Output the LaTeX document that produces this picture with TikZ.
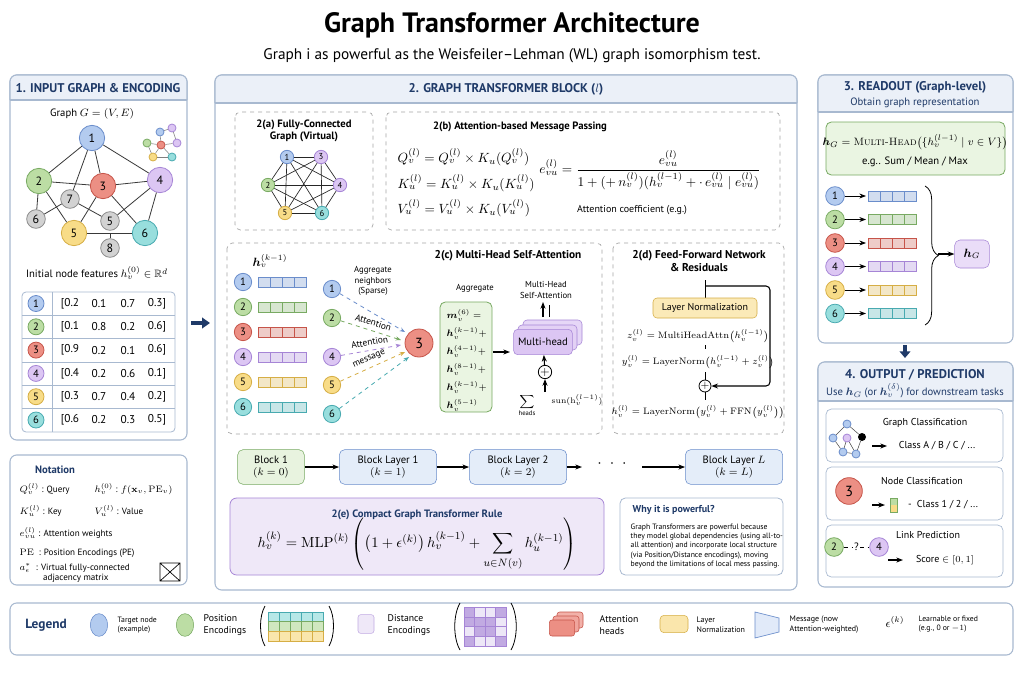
\documentclass[tikz,border=0pt]{standalone}
\usepackage{amsmath,amssymb}
\usepackage[no-math]{fontspec}
\setmainfont{PT Sans}
\usetikzlibrary{arrows.meta,calc,decorations.pathreplacing,shapes.geometric}
\definecolor{nb}{HTML}{B3CBEF}\definecolor{nbD}{HTML}{6A8DCB}
\definecolor{ng}{HTML}{BCDDA4}\definecolor{ngD}{HTML}{78AA62}
\definecolor{nr}{HTML}{EC8F84}\definecolor{nrD}{HTML}{C65449}
\definecolor{np}{HTML}{DCC6F3}\definecolor{npD}{HTML}{A685D6}
\definecolor{ny}{HTML}{F8DC88}\definecolor{nyD}{HTML}{D6AE45}
\definecolor{nt}{HTML}{98DEDD}\definecolor{ntD}{HTML}{48AAB0}
\definecolor{nk}{HTML}{D2D2D2}\definecolor{nkD}{HTML}{8A8A8A}
\definecolor{pb}{HTML}{A8B9D0}\definecolor{hb}{HTML}{EBF0F8}\definecolor{tc}{HTML}{1F3A68}
\definecolor{lav}{HTML}{EFE8F8}\definecolor{lg}{HTML}{EAF5E2}
\newcommand{\fbar}[3]{\foreach \i in {0,...,3}{\draw[#3,fill=#3!30,line width=0.5pt] (#1+\i*12,#2-5) rectangle ++(12,10);}}
\tikzset{
 gn/.style 2 args={circle,draw=#1D,fill=#1,minimum size=#2,inner sep=0pt,line width=0.6pt},
 panel/.style={draw=pb,rounded corners=5pt,line width=0.8pt,fill=white},
 dbox/.style={draw=gray!70,dashed,rounded corners=4pt,line width=0.5pt},
 hdr/.style={font=\bfseries\fontsize{9.5}{11}\selectfont,text=tc},
 sub/.style={font=\fontsize{8}{10}\selectfont,text=tc},
 tt/.style={font=\bfseries\fontsize{8}{10}\selectfont},
 sm/.style={font=\fontsize{6.5}{8}\selectfont,align=center},
 ge/.style={draw=gray!45!black,line width=0.6pt},
 ar/.style={-{Stealth[length=5pt]},line width=0.8pt},
}
\newcommand{\phead}[4]{\path[fill=hb,draw=pb,line width=0.8pt,rounded corners=5pt] (#1,#4)--(#1,#2)--(#3,#2)--(#3,#4);\draw[pb,line width=0.8pt](#1,#4)--(#3,#4);}
\begin{document}
\begin{tikzpicture}[x=0.75pt,y=-0.75pt]
\useasboundingbox[fill=white] (0,0) rectangle (1024,682);
\node[font=\bfseries\fontsize{21}{24}\selectfont] (title) at (512,25) {Graph Transformer Architecture};
\node[font=\fontsize{11.5}{13}\selectfont] (subt) at (512,56) {Graph i as powerful as the Weisfeiler--Lehman (WL) graph isomorphism test.};
%% panel 1
\draw[panel] (10,75) rectangle (187,440); \phead{10}{75}{187}{100}
\node[hdr] (p1) at (98,88) {1. INPUT GRAPH \& ENCODING};
\node[font=\fontsize{8}{10}\selectfont] (gl) at (92,114) {Graph $G=(V,E)$};
\coordinate (j8) at (110,233);
\begin{scope}[font=\fontsize{9}{10}\selectfont]
\node[gn={nb}{19pt}] (a1) at (92,138) {1};
\node[gn={ng}{19pt}] (a2) at (39,181) {2};
\node[gn={nr}{19pt}] (a3) at (103,186) {3};
\node[gn={np}{19pt}] (a4) at (160,180) {4};
\node[gn={ny}{19pt}] (a5) at (74,233) {5};
\node[gn={nt}{19pt}] (a6) at (145,233) {6};
\node[gn={nk}{14pt}] (g7) at (70,199) {7};
\node[gn={nk}{14pt}] (g6) at (36,219) {6};
\node[gn={nk}{14pt}] (g5) at (110,221) {5};
\node[gn={nk}{14pt}] (g8) at (110,248) {8};
\end{scope}
\foreach \a/\b in {a1/a2,a1/a3,a1/g7,a1/a4,a2/a3,a2/g6,a2/a5,a3/a4,a3/a5,a3/a6,g7/g6,g7/g5,a4/a6,a4/g5,a5/a6}{\draw[ge] (\a)--(\b);}
\draw[ge] (g8)--(j8);
% mini icon
\foreach \n/\x/\y/\c in {m1/160/132/nb,m2/172/128/np,m3/147/143/ng,m4/161/145/nr,m5/177/143/np,m6/153/157/ny,m7/172/157/nt}{\node[gn={\c}{6pt}] (\n) at (\x,\y) {};}
\foreach \a/\b in {m1/m2,m1/m4,m3/m4,m4/m5,m2/m5,m4/m6,m4/m7,m6/m7,m3/m6}{\draw[gray,line width=0.4pt] (\a)--(\b);}
\node[font=\fontsize{8}{10}\selectfont] (ifl) at (97,273) {Initial node features $h_v^{(0)}\in\mathbb{R}^d$};
\draw[pb,rounded corners=3pt,line width=0.6pt] (22,292) rectangle (175,432);
\draw[pb,line width=0.6pt] (52,292)--(52,432);
\foreach \r/\c in {0/nb,1/ng,2/nr,3/np,4/ny,5/nt}{
 \pgfmathtruncatemacro{\k}{\r+1}
 \node[gn={\c}{12pt},font=\fontsize{8}{9}\selectfont] (t\k) at (36,{303.5+\r*23.3}) {\k};
 \ifnum\r>0 \draw[pb,line width=0.5pt] (22,{292+\r*23.3})--(175,{292+\r*23.3});\fi
}
\begin{scope}[font=\fontsize{8.5}{10}\selectfont]
\foreach \r/\p/\q/\s/\t in {0/[0.2/0.1/0.7/0.3,1/[0.1/0.8/0.2/0.6,2/[0.9/0.2/0.1/0.6,3/[0.4/0.2/0.6/0.1,4/[0.3/0.7/0.4/0.2,5/[0.6/0.2/0.3/0.5}{
 \node (v\r a) at (70,{303.5+\r*23.3}) {\p}; \node (v\r b) at (99,{303.5+\r*23.3}) {\q};
 \node (v\r c) at (128,{303.5+\r*23.3}) {\s}; \node (v\r d) at (157,{303.5+\r*23.3}) {\t]};}
\end{scope}
%% notation
\draw[panel] (10,455) rectangle (187,585);
\node[font=\bfseries\fontsize{8}{10}\selectfont,text=tc] (nt) at (55,470) {Notation};
\begin{scope}[font=\fontsize{6.8}{8}\selectfont,inner sep=1pt]
\node[anchor=west] (n1) at (18,489) {$Q_v^{(l)}$ : Query};
\node[anchor=west] (n2) at (93,489) {$h_v^{(0)}$ : $f(\mathbf{x}_v,\mathrm{PE}_v)$};
\node[anchor=west] (n3) at (18,511) {$K_u^{(l)}$ : Key};
\node[anchor=west] (n4) at (93,511) {$V_u^{(l)}$ : Value};
\node[anchor=west] (n5) at (18,533) {$e_{vu}^{(l)}$ : Attention weights};
\node[anchor=west] (n6) at (18,553) {$\mathrm{PE}$ \ : Position Encodings (PE)};
\node[anchor=west,align=left] (n7) at (18,573) {$a_\epsilon^{*}$ \ : Virtual fully-connected\\ \hspace{2.6em}adjacency matrix};
\end{scope}
\draw[line width=0.5pt] (160,563) rectangle (180,581) (160,563)--(180,581) (160,581)--(180,563);
%% arrow 1->2
\draw[-{Triangle[length=6pt,width=8pt]},line width=3pt,tc] (191,323)--(210,323);
%% panel 2
\draw[panel] (215,75) rectangle (797,590); \phead{215}{75}{797}{103}
\node[hdr] (p2) at (506,89) {2. GRAPH TRANSFORMER BLOCK ($l$)};
% 2a
\draw[dbox] (235,112) rectangle (373,230);
\node[align=center,font=\bfseries\fontsize{8}{9}\selectfont] (ta) at (304,131) {2(a) Fully-Connected\\Graph (Virtual)};
\begin{scope}[font=\fontsize{6.5}{7}\selectfont]
\node[gn={nb}{10pt}] (b1) at (287,157) {1}; \node[gn={np}{10pt}] (b3) at (321,157) {3};
\node[gn={ng}{10pt}] (b2) at (268,185) {2}; \node[gn={np}{10pt}] (b4) at (340,185) {4};
\node[gn={ny}{10pt}] (b5) at (285,213) {5}; \node[gn={nt}{10pt}] (b6) at (322,213) {6};
\end{scope}
\foreach \a/\b in {b1/b2,b1/b3,b1/b4,b1/b5,b1/b6,b2/b3,b2/b4,b2/b5,b2/b6,b3/b4,b3/b5,b3/b6,b4/b5,b4/b6,b5/b6}{\draw[gray!30!black,line width=0.5pt] (\a)--(\b);}
% 2b
\draw[dbox] (386,112) rectangle (780,230);
\node[tt] (tb) at (520,127) {2(b) Attention-based Message Passing};
\begin{scope}[font=\fontsize{10}{12}\selectfont]
\node[anchor=west] (q) at (393,157) {$Q_v^{(l)}=Q_v^{(l)}\times K_u(Q_v^{(l)})$};
\node[anchor=west] (k) at (393,183) {$K_u^{(l)}=K_u^{(l)}\times K_u(K_u^{(l)})$};
\node[anchor=west] (v) at (393,208) {$V_u^{(l)}=V_u^{(l)}\times K_u(V_u^{(l)})$};
\node (e) at (650,170) {$e_{vu}^{(l)}=\dfrac{e_{vu}^{(l)}}{1+(+\,n_v^{(l)})(h_v^{(l-1)}+\cdot\, e_{vu}^{(l)}\mid e_{vu}^{(l)})}$};
\end{scope}
\node[font=\fontsize{7.5}{9}\selectfont] (ac) at (632,210) {Attention coefficient (e.g.)};
% 2c
\draw[dbox] (227,243) rectangle (602,434);
\node[font=\bfseries\fontsize{8.5}{10}\selectfont] (tcc) at (508,256) {2(c) Multi-Head Self-Attention};
\node[font=\fontsize{9}{10}\selectfont] (hk) at (270,261) {$\boldsymbol{h}_v^{(k-1)}$};
\foreach \r/\c in {0/nb,1/ng,2/nr,3/np,4/ny,5/nt}{
 \pgfmathtruncatemacro{\k}{\r+1}
 \node[gn={\c}{13pt},font=\fontsize{8}{9}\selectfont] (c\k) at (243,{282+\r*25}) {\k};
 \fbar{258}{282+\r*25}{\c D}}
\node[sm] (agn) at (373,281) {Aggregate\\neighbors\\(Sparse)};
\begin{scope}[font=\fontsize{8}{9}\selectfont]
\node[gn={nb}{13pt}] (d1) at (332,289) {1};
\node[gn={ng}{13pt}] (d2) at (332,318) {2};
\node[gn={np}{13pt}] (d4) at (332,357) {4};
\node[gn={ny}{13pt}] (d5) at (332,385) {5};
\node[gn={nt}{13pt}] (d6) at (332,414) {6};
\node[gn={nr}{21pt},font=\fontsize{11}{12}\selectfont] (d3) at (419,343) {3};
\end{scope}
\draw[dashed,nbD,-{Stealth[length=4pt]},line width=0.6pt] (d1)--(405,332);
\draw[dashed,ngD,-{Stealth[length=4pt]},line width=0.6pt] (d2)--node[sloped,above,font=\fontsize{7}{8}\selectfont,text=black]{Attention}(401,340);
\draw[dashed,npD,-{Stealth[length=4pt]},line width=0.6pt] (d4)--node[sloped,above,font=\fontsize{7}{8}\selectfont,text=black]{Attention}(401,345);
\draw[dashed,nyD,-{Stealth[length=4pt]},line width=0.6pt] (d5)--node[sloped,above,font=\fontsize{7}{8}\selectfont,text=black]{message}(405,352);
\draw[dashed,ntD,-{Stealth[length=4pt]},line width=0.6pt] (d6)--(409,357);
\node[sm] (agg) at (475,288) {Aggregate};
\draw[ngD,fill=lg,rounded corners=4pt,line width=0.6pt] (440,302) rectangle (492,412);
\node[font=\fontsize{7}{13.5}\selectfont,align=left,anchor=north west] (mm) at (442,305) {$\boldsymbol{m}_v^{(6)}=$\\$\boldsymbol{h}_v^{(k-1)}+$\\$\boldsymbol{h}_v^{(4-1)}+$\\$\boldsymbol{h}_v^{(8-1)}+$\\$\boldsymbol{h}_v^{(k-1)}+$\\$\boldsymbol{h}_v^{(5-1)}$};
\draw[ar] (493,352)--(510,352);
\node[sm] (mhl) at (546,290) {Multi-Head\\Self-Attention};
\draw[npD,fill=np!70,rounded corners=3pt] (523,320) rectangle (582,345);
\draw[npD,fill=np!80,rounded corners=3pt] (518,325) rectangle (577,350);
\node[draw=npD,fill=np,rounded corners=3pt,minimum width=44pt,minimum height=19pt,font=\fontsize{8}{9}\selectfont,inner sep=0pt] (mh) at (543,342) {Multi-head};
\draw[ar] (543,317)--(543,302); \draw[line width=0.6pt] (549,317)--(549,305);
\node[circle,draw,line width=0.6pt,inner sep=0pt,minimum size=10pt,font=\fontsize{9}{9}\selectfont] (pl) at (545,372) {$+$};
\draw[ar] (pl)--(mh); \coordinate (pb0) at (545,392); \draw[ar] (pb0)--(pl);
\node[font=\fontsize{7}{8}\selectfont] (smh) at (527,406) {$\displaystyle\sum_{\text{heads}}$};
\node[font=\fontsize{6.5}{8}\selectfont,anchor=west] (sn) at (547,400) {$\mathrm{sun}(\mathrm{h}_v^{(l-1)})$};
% 2d
\draw[dbox] (613,243) rectangle (784,434);
\node[align=center,font=\bfseries\fontsize{8.5}{10}\selectfont] (td) at (699,261) {2(d) Feed-Forward Network\\\& Residuals};
\coordinate (dt) at (705,280); \coordinate (dr) at (770,286); \coordinate (dd) at (705,420);
\draw[line width=0.6pt] (dt)--(705,298); \draw[line width=0.6pt,dashed] (705,345)--(705,352);
\draw[line width=0.6pt] (705,372)--(705,380) (705,392)--(705,400);
\node[draw=nyD,fill=ny!60,rounded corners=3pt,minimum width=78pt,minimum height=15pt,font=\fontsize{7.5}{9}\selectfont] (ln) at (705,308) {Layer Normalization};
\begin{scope}[font=\fontsize{7.3}{9}\selectfont]
\node (zq) at (698,336) {$z_v^{(l)}=\mathrm{MultiHeadAttn}\bigl(h_v^{(l-1)}\bigr)$};
\node (yq) at (698,362) {$y_v^{(l)}=\mathrm{LayerNorm}\bigl(h_v^{(l-1)}+z_v^{(l)}\bigr)$};
\node (hq) at (698,412) {$h_v^{(l)}=\mathrm{LayerNorm}\bigl(y_v^{(l)}+\mathrm{FFN}\bigl(y_v^{(l)}\bigr)\bigr)$};
\end{scope}
\node[circle,draw,line width=0.6pt,inner sep=0pt,minimum size=9pt,font=\fontsize{8}{8}\selectfont] (dp) at (705,386) {$+$};
\draw[ar,rounded corners=3pt] (705,286)--(dr)--(770,386)--(dp);
% blocks
\tikzset{blk/.style={draw=#1D,fill=#1!35,rounded corners=4pt,minimum height=26pt,align=center,font=\fontsize{8}{9}\selectfont,inner sep=2pt}}
\node[blk=ng,minimum width=50pt] (B0) at (271,467) {Block 1\\$(k=0)$};
\node[blk=nb,minimum width=73pt] (B1) at (388,467) {Block Layer 1\\$(k=1)$};
\node[blk=nb,minimum width=73pt] (B2) at (518,467) {Block Layer 2\\$(k=2)$};
\node[blk=nb,minimum width=73pt] (BL) at (734,467) {Block Layer $L$\\$(k=L)$};
\coordinate (dots1) at (582,467); \coordinate (dots2) at (642,467);
\draw[ar] (B0)--(B1); \draw[ar] (B1)--(B2); \draw[ar] (B2)--(dots1); \draw[ar] (dots2)--(BL);
\node[font=\bfseries\fontsize{12}{12}\selectfont] (dd3) at (612,464) {$\cdot\;\cdot\;\cdot$};
% 2e
\draw[npD,fill=lav,rounded corners=5pt,line width=0.6pt] (230,498) rectangle (604,575);
\node[tt,text=tc] (te) at (417,515) {2(e) Compact Graph Transformer Rule};
\node[font=\fontsize{11}{13}\selectfont] (rule) at (417,544) {$h_v^{(k)}=\mathrm{MLP}^{(k)}\left(\left(1+\epsilon^{(k)}\right)h_v^{(k-1)}+\displaystyle\sum_{u\in N(v)}h_u^{(k-1)}\right)$};
\draw[pb,rounded corners=4pt,line width=0.6pt] (620,498) rectangle (783,575);
\node[font=\bfseries\fontsize{7.5}{9}\selectfont,text=tc,anchor=west] (wp) at (628,510) {Why it is powerful?};
\node[font=\fontsize{5.8}{7}\selectfont,align=left,anchor=north west] (wt) at (626,519) {Graph Transformers are powerful because\\they model global dependencies (using all-to-\\all attention) and incorporate local structure\\(via Position/Distance encodings), moving\\beyond the limitations of local mess passing.};
%% panel 3
\draw[panel] (818,75) rectangle (1013,343); \phead{818}{75}{1013}{112}
\node[hdr] (p3) at (915,87) {3. READOUT (Graph-level)};
\node[sub] (p3s) at (915,103) {Obtain graph representation};
\draw[ngD,fill=lg,rounded corners=4pt,line width=0.6pt] (826,122) rectangle (1005,175);
\node[font=\fontsize{8}{9}\selectfont] (hg) at (915,142) {$\boldsymbol{h}_G=\text{\fontfamily{lmr}\selectfont\scshape Multi-Head}\bigl(\{h_v^{(l-1)}\mid v\in V\}\bigr)$};
\node[font=\fontsize{8}{9}\selectfont] (eg) at (915,162) {e.g.. Sum / Mean / Max};
\foreach \r/\c in {0/nb,1/ng,2/nr,3/np,4/ny,5/nt}{
 \pgfmathtruncatemacro{\k}{\r+1}
 \node[gn={\c}{14pt},font=\fontsize{8}{9}\selectfont] (r\k) at (835,{196+\r*23.5}) {\k};
 \coordinate (rb\k) at (866,{196+\r*23.5});
 \draw[ar,line width=0.7pt] (r\k)--(rb\k);
 \fbar{868}{196+\r*23.5}{\c D}}
\draw[decorate,decoration={brace,amplitude=10pt},line width=0.6pt] (925,186)--(925,325);
\node[draw=npD,fill=np!60,rounded corners=4pt,minimum width=26pt,minimum height=21pt,font=\fontsize{9}{10}\selectfont] (hG) at (972,254) {$\boldsymbol{h}_G$};
\coordinate (br) at (938,254); \draw[ar] (br)--(hG);
\draw[-{Triangle[length=5pt,width=8pt]},line width=2.5pt,tc] (905,345)--(905,358);
%% panel 4
\draw[panel] (818,362) rectangle (1013,587); \phead{818}{362}{1013}{401}
\node[hdr] (p4) at (915,375) {4. OUTPUT / PREDICTION};
\node[sub] (p4s) at (915,391) {Use $\boldsymbol{h}_G$ (or $\boldsymbol{h}_v^{(\delta)}$) for downstream tasks};
\draw[pb,rounded corners=4pt,line width=0.5pt] (826,409) rectangle (1003,462) (826,467) rectangle (1003,520) (826,525) rectangle (1003,577);
\node[gn={nb}{6pt}] (o1) at (847,424) {}; \node[gn={nb}{6pt}] (o2) at (833,438) {};
\node[gn={np}{6pt}] (o3) at (847,438) {}; \node[circle,fill=black,minimum size=6pt,inner sep=0pt] (o4) at (862,437) {};
\node[gn={nb}{6pt}] (o5) at (843,452) {}; \node[gn={nb}{6pt}] (o6) at (856,454) {};
\foreach \a/\b in {o1/o2,o1/o4,o2/o5,o3/o5,o3/o6,o4/o6,o5/o6}{\draw[gray!60!black,line width=0.4pt] (\a)--(\b);}
\node[font=\fontsize{7.5}{9}\selectfont] (gc) at (925,423) {Graph Classification};
\coordinate (ga1) at (872,446); \coordinate (ga2) at (887,446); \draw[ar] (ga1)--(ga2);
\node[font=\fontsize{7.5}{9}\selectfont] (gcl) at (937,446) {Class A / B / C / ...};
\node[gn={nr}{20pt},font=\fontsize{11}{12}\selectfont] (o3n) at (849,491) {3};
\node[font=\fontsize{7.5}{9}\selectfont] (nc) at (922,481) {Node Classification};
\coordinate (na1) at (872,505); \coordinate (na2) at (885,505); \draw[ar] (na1)--(na2);
\fill[ng] (890,498) rectangle (897,505); \fill[ny] (890,505) rectangle (897,512);
\draw[ngD,line width=0.4pt] (890,498) rectangle (897,512);
\node[font=\fontsize{7.5}{9}\selectfont] (ncl) at (943,505) {-\ \ Class 1 / 2 / ...};
\node[gn={ng}{14pt},font=\fontsize{8}{9}\selectfont] (l2) at (834,547) {2};
\node[gn={np}{14pt},font=\fontsize{8}{9}\selectfont] (l4) at (879,547) {4};
\draw[dashed,line width=0.6pt] (l2)--node[fill=white,inner sep=1pt,font=\fontsize{8}{9}\selectfont]{?}(l4);
\node[font=\fontsize{7.5}{9}\selectfont] (lp) at (928,535) {Link Prediction};
\coordinate (la1) at (888,560); \coordinate (la2) at (903,560); \draw[ar] (la1)--(la2);
\node[font=\fontsize{7.5}{9}\selectfont] (lpl) at (945,560) {Score $\in[0,1]$};
%% legend
\draw[panel] (10,603) rectangle (1013,655);
\node[font=\bfseries\fontsize{10}{12}\selectfont,text=tc] (lg) at (46,625) {Legend};
\node[draw=nbD,fill=nb,ellipse,minimum width=13pt,minimum height=17pt,inner sep=0pt] (L1) at (99,625) {};
\node[font=\fontsize{5.8}{7}\selectfont,align=left,anchor=west] (L1t) at (113,625) {Target node\\(example)};
\node[draw=ngD,fill=ng,ellipse,minimum width=13pt,minimum height=17pt,inner sep=0pt] (L2) at (185,625) {};
\node[font=\fontsize{7.3}{8.5}\selectfont,align=left,anchor=west] (L2t) at (199,625) {Position\\Encodings};
\foreach \c [count=\j from 0] in {nt,ng,ny}{\foreach \i in {0,...,4}{\draw[\c D,fill=\c!70,line width=0.4pt] (268+\i*11,612+\j*9.7) rectangle ++(11,9.7);}}
\draw[line width=0.6pt] (265,606) .. controls (259,616) and (259,636) .. (265,646);
\draw[line width=0.6pt] (329,606) .. controls (335,616) and (335,636) .. (329,646);
\node[draw=npD!70,fill=lav,rounded corners=2pt,minimum width=12pt,minimum height=14pt] (L3) at (366,624) {};
\node[font=\fontsize{7.3}{8.5}\selectfont,align=left,anchor=west] (L3t) at (383,625) {Distance\\Encodings};
\foreach \i in {0,...,3}{\foreach \j in {0,...,3}{
 \pgfmathsetmacro{\d}{(\i==\j||\i+\j==3||(\i==0&&\j==1)||(\i==2&&\j==1))?70:20}
 \draw[npD,fill=npD!\d,line width=0.4pt] (464+\i*10.5,607+\j*9.8) rectangle ++(10.5,9.8);}}
\draw[line width=0.6pt] (460,603) .. controls (453,615) and (453,638) .. (460,650);
\draw[line width=0.6pt] (511,603) .. controls (518,615) and (518,638) .. (511,650);
\draw[nrD,fill=nr!70,rounded corners=2pt] (557,612) rectangle (583,628);
\draw[nrD,fill=nr!80,rounded corners=2pt] (553,616) rectangle (579,632);
\node[draw=nrD,fill=nr,rounded corners=2pt,minimum width=19pt,minimum height=12pt,inner sep=0] (L4) at (562,628) {};
\node[font=\fontsize{7.3}{8.5}\selectfont,align=left,anchor=west] (L4t) at (595,625) {Attention\\heads};
\node[draw=nyD,fill=ny!70,rounded corners=3pt,minimum width=21pt,minimum height=13pt] (L5) at (674,624) {};
\node[font=\fontsize{6}{7.5}\selectfont,align=left,anchor=west] (L5t) at (692,625) {Layer\\Normalization};
\draw[nbD,fill=nb!40,line width=0.5pt] (755,612)--(779,618)--(779,632)--(755,638)--cycle;
\node[font=\fontsize{6}{7.5}\selectfont,align=left,anchor=west] (L6t) at (785,625) {Message (now\\Attention-weighted)};
\node[font=\fontsize{9}{10}\selectfont] (L7) at (895,622) {$\epsilon^{(k)}$};
\node[font=\fontsize{5.8}{7}\selectfont,align=left,anchor=west] (L7t) at (914,624) {Learnable or fixed\\(e.g., 0 or $-1$)};
\end{tikzpicture}
\end{document}
